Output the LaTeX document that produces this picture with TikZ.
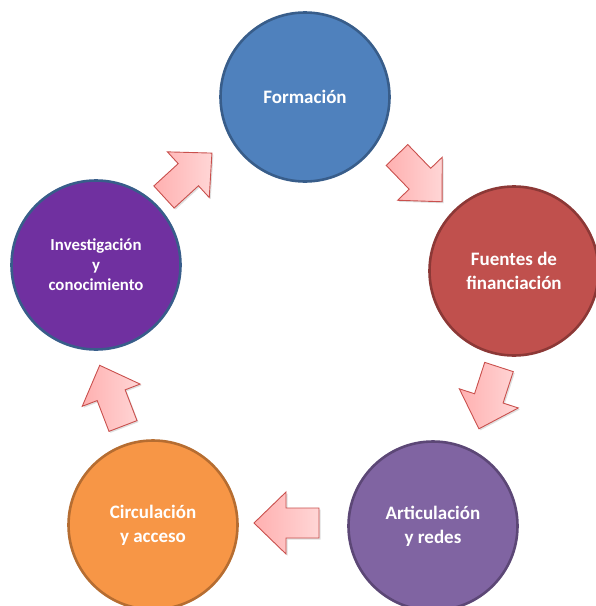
\documentclass[tikz,border=0pt]{standalone}
\usepackage{fontspec}
\setmainfont{Carlito}
\usetikzlibrary{shadows}
\definecolor{cBlue}{HTML}{4F81BD}
\definecolor{cBlueLine}{HTML}{385D8A}
\definecolor{cRed}{HTML}{C0504D}
\definecolor{cRedLine}{HTML}{8C3836}
\definecolor{cLav}{HTML}{8064A2}
\definecolor{cLavLine}{HTML}{5C4776}
\definecolor{cOrange}{HTML}{F79646}
\definecolor{cOrangeLine}{HTML}{B66D31}
\definecolor{cPurple}{HTML}{7030A0}
\definecolor{arrowLine}{HTML}{C9504D}
\definecolor{arrowA}{HTML}{FFB0B0}
\definecolor{arrowB}{HTML}{FFD6D6}
\begin{document}
\begin{tikzpicture}[x=1pt,y=1pt,
  bubble/.style={circle, minimum size=169pt, inner sep=0pt, line width=2.6pt,
    text=white, align=center, font=\bfseries\fontsize{19}{24}\selectfont},
  blockarrow/.style={draw=arrowLine, line width=0.9pt, left color=arrowA, right color=arrowB,
    drop shadow={opacity=0.25, shadow xshift=1.5pt, shadow yshift=-1.5pt}}]
\useasboundingbox (0,0) rectangle (596,-606);

\node[bubble, fill=cBlue, draw=cBlueLine] (form) at (305,-97) {Formación};
\node[bubble, fill=cRed, draw=cRedLine] (fuen) at (514,-271) {Fuentes de\\financiación};
\node[bubble, fill=cLav, draw=cLavLine] (arti) at (433,-526) {Articulación\\y redes};
\node[bubble, fill=cOrange, draw=cOrangeLine] (circ) at (153,-525) {Circulación\\y acceso};
\node[bubble, fill=cPurple, draw=cBlueLine, font=\bfseries\fontsize{16.8}{20}\selectfont] (inve) at (96,-265) {Investigación\\y\\conocimiento};

\begin{scope}[shift={(164,-197)}, rotate=42.5]
\path[blockarrow] (0,15) -- (33,15) -- (33,31) -- (65,0) -- (33,-31) -- (33,-15) -- (0,-15) -- cycle;
\end{scope}
\begin{scope}[shift={(397,-155)}, rotate=-46]
\path[blockarrow] (0,15) -- (33,15) -- (33,31) -- (65,0) -- (33,-31) -- (33,-15) -- (0,-15) -- cycle;
\end{scope}
\begin{scope}[shift={(499,-367)}, rotate=-108]
\path[blockarrow] (0,15) -- (33,15) -- (33,31) -- (65,0) -- (33,-31) -- (33,-15) -- (0,-15) -- cycle;
\end{scope}
\begin{scope}[shift={(319,-523)}, rotate=180]
\path[blockarrow] (0,15) -- (33,15) -- (33,31) -- (65,0) -- (33,-31) -- (33,-15) -- (0,-15) -- cycle;
\end{scope}
\begin{scope}[shift={(123,-426)}, rotate=111]
\path[blockarrow] (0,15) -- (33,15) -- (33,31) -- (65,0) -- (33,-31) -- (33,-15) -- (0,-15) -- cycle;
\end{scope}
\end{tikzpicture}
\end{document}
